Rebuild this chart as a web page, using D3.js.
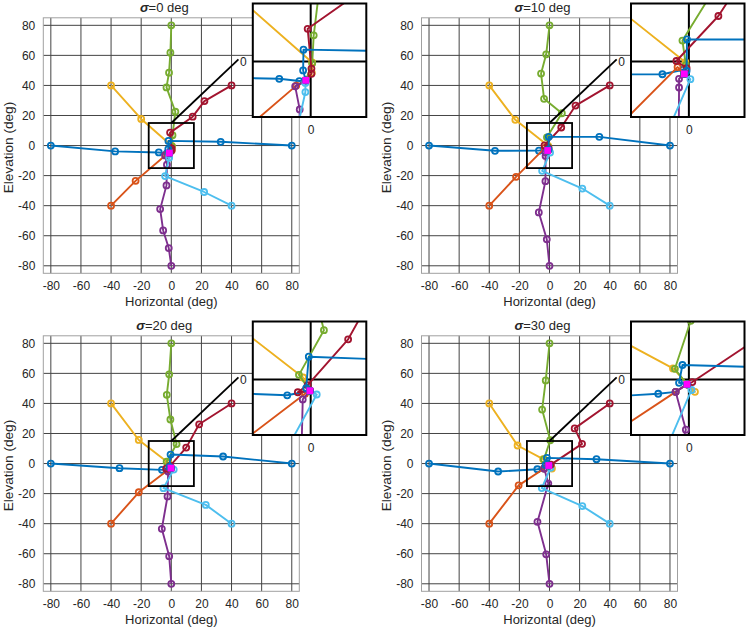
<!DOCTYPE html>
<html>
<head>
<meta charset="utf-8">
<script src="https://cdn.jsdelivr.net/npm/d3@7"></script>
<style>
  body { margin: 0; background: #fff; }
  svg text { font-family: "Liberation Sans", Arial, Helvetica, sans-serif; fill: #262626; }
</style>
</head>
<body>
<svg id="chart" width="750" height="630"></svg>
<script>
// ---------- data ----------
const sigmas = [0, 10, 20, 30];
const xTicks = [-80, -60, -40, -20, 0, 20, 40, 60, 80];
const yTicks = [-80, -60, -40, -20, 0, 20, 40, 60, 80];
const insetTicks = [0];

// one track per target, target first
const tracksS0 = [
  [[-80, 0], [-37.3, -3.9], [-8.3, -4.6], [-3, -5.2], [-1.3, -5]],
  [[-40, -40], [-23.7, -23.5], [-3.8, -6.4], [-1.3, -5]],
  [[-40, 40], [-20, 17.7], [0.4, -0.3], [0.3, -3], [-1.3, -5]],
  [[0, -80], [-1.7, -68.2], [-5.4, -56.5], [-7.4, -42.3], [-3.2, -26.5], [-2.9, -12.7], [-4.1, -6.6], [-1.3, -5]],
  [[0, 80], [-0.6, 61.8], [-1.5, 48.5], [-3.2, 38.7], [2.7, 22.5], [0.8, 6.9], [0.4, -0.5], [-1.3, -5]],
  [[40, -40], [21.8, -30.9], [-4.1, -20.3], [-1.4, -8.1], [-1.4, -5.7], [-1.3, -5]],
  [[40, 40], [22, 29.6], [14.2, 19.2], [-0.8, 8.6], [0.2, -1.9], [0.2, -3.3], [-1.3, -5]],
  [[80, 0], [32.8, 2.5], [-1.9, 3.1], [-2, -2.4], [-1.3, -5]]
];
const tracksS10 = [
  [[-80, 0], [-36.2, -3.5], [-7, -3.4], [-1.5, -2.2], [-1.2, -3.3]],
  [[-40, -40], [-22.2, -20.8], [-3, -1.5], [-1.2, -3.3]],
  [[-40, 40], [-22.7, 17.1], [-0.9, -0.2], [-1.2, -3.3]],
  [[0, -80], [-1.8, -62.4], [-7.1, -44.5], [-2.7, -23.7], [-2.6, -6.9], [-2.6, -4.6], [-1.2, -3.3]],
  [[0, 80], [-2.2, 60.7], [-5.6, 47.9], [-3.6, 31.1], [8.2, 21.5], [-1.7, 5.5], [-0.8, -1], [-1.2, -3.3]],
  [[40, -40], [21.8, -28.6], [-4.9, -16.8], [0.4, -4.7], [-1.2, -3.3]],
  [[40, 40], [17.3, 26.6], [7.8, 12], [-3.3, 0.1], [-0.6, -1.8], [-1.2, -3.3]],
  [[80, 0], [33.1, 5.8], [-0.5, 5.8], [-0.6, -2.5], [-1.2, -3.3]]
];
const tracksS20 = [
  [[-80, 0], [-34.4, -3.1], [-6.2, -4.2], [-0.2, -3]],
  [[-40, -40], [-21.6, -19.1], [-1.5, -3.8], [-0.2, -3]],
  [[-40, 40], [-21.6, 15.7], [-2, 0.5], [-0.2, -3]],
  [[0, -80], [-1.4, -61.6], [-6.3, -43.4], [-2.5, -21.9], [-2.1, -5.3], [-0.2, -3]],
  [[0, 80], [-1.4, 59.4], [-3, 45.7], [-0.6, 29.3], [3.5, 13], [-3.1, 1.2], [-0.2, -3]],
  [[40, -40], [22.9, -27.5], [-5.2, -16.4], [1.6, -4], [-0.2, -3]],
  [[40, 40], [18.5, 26.1], [9.9, 10.6], [-0.8, -1.5], [-3.4, -3.4], [-0.2, -3]],
  [[80, 0], [34.4, 4.7], [-0.5, 6], [-1.2, -2.3], [-0.2, -3]]
];
const tracksS30 = [
  [[-80, 0], [-34.1, -5.3], [-8.1, -3.8], [-3.5, -3.3], [-0.5, -1.3]],
  [[-40, -40], [-20.5, -14.5], [-3.5, -3.3], [-0.5, -1.3]],
  [[-40, 40], [-21.2, 12], [-4.2, 2.9], [1.6, -3.3], [-0.5, -1.3]],
  [[0, -80], [-2.2, -60.4], [-8, -38.8], [-0.8, -13.3], [-3.5, -3.3], [-0.5, -1.3]],
  [[0, 80], [-2.5, 55.3], [-4.9, 35.9], [0.5, 15.5], [-3.7, 2.8], [-0.5, -1.3]],
  [[40, -40], [21.8, -28.3], [-5.1, -16.3], [0.7, -2.8], [-0.5, -1.3]],
  [[40, 40], [16.7, 23.4], [21.6, 13.1], [0.9, -0.7], [-0.5, -1.3]],
  [[80, 0], [31.2, 2.9], [-1.7, 3.8], [-2.6, -0.9], [-0.5, -1.3]]
];
const tracks = [tracksS0, tracksS10, tracksS20, tracksS30];

// magenta square in each panel
const centerPoints = [[-1.3, -5], [-1.2, -3.3], [-0.2, -3], [-0.5, -1.3]];

// zoom box and pointer line, in data units
const zoomBox = [-15, 15];
const pointerLine = [[0, 15], [44.6, 57.4]];

// MATLAB default colour order (8th wraps to the first)
const colors = ["#0072BD", "#D95319", "#EDB120", "#7E2F8E", "#77AC30", "#4DBEEE", "#A2142F", "#0072BD"];

// ---------- layout ----------
const svg = d3.select("#chart");
const lefts = [43.3, 421.5];
const tops = [17.8, 335.8];
const W = 256, H = 255.5;
const insetSize = 113.5;
const fmt = d => String(d);

function drawTracks(g, data, x, y) {
  const line = d3.line().x(d => x(d[0])).y(d => y(d[1]));
  data.forEach((track, k) => {
    g.append("path")
      .attr("d", line(track))
      .attr("fill", "none")
      .attr("stroke", colors[k])
      .attr("stroke-width", 1.9)
      .attr("stroke-linejoin", "round");
    g.append("g").selectAll("circle")
      .data(track)
      .join("circle")
      .attr("cx", d => x(d[0]))
      .attr("cy", d => y(d[1]))
      .attr("r", 3)
      .attr("fill", "none")
      .attr("stroke", colors[k])
      .attr("stroke-width", 1.8);
  });
}

function drawCenter(g, p, x, y) {
  g.append("rect")
    .attr("x", x(p[0]) - 3.4)
    .attr("y", y(p[1]) - 3.4)
    .attr("width", 6.8)
    .attr("height", 6.8)
    .attr("fill", "#FF00FF");
}

function styleAxis(a) {
  a.select(".domain").remove();
  a.attr("font-family", null).attr("font-size", null);
  a.selectAll("text").style("font-size", "12px");
}

function drawPanel(i) {
  const col = i % 2, row = Math.floor(i / 2);
  const left = lefts[col], top = tops[row];

  const x = d3.scaleLinear().domain([-85, 85]).range([0, W]);
  const y = d3.scaleLinear().domain([-85, 85]).range([H, 0]);

  const g = svg.append("g").attr("transform", `translate(${left},${top})`);

  g.append("rect").attr("width", W).attr("height", H).attr("fill", "#fff");

  // grid
  g.append("g").selectAll("line")
    .data(xTicks)
    .join("line")
    .attr("x1", d => x(d)).attr("x2", d => x(d))
    .attr("y1", 0).attr("y2", H)
    .attr("stroke", "#444")
    .attr("stroke-width", 1);
  g.append("g").selectAll("line")
    .data(yTicks)
    .join("line")
    .attr("y1", d => y(d)).attr("y2", d => y(d))
    .attr("x1", 0).attr("x2", W)
    .attr("stroke", "#444")
    .attr("stroke-width", 1);

  g.append("rect")
    .attr("width", W).attr("height", H)
    .attr("fill", "none")
    .attr("stroke", "#a0a0a0")
    .attr("stroke-width", 1);

  // tick labels
  const xa = g.append("g")
    .attr("transform", `translate(0,${H})`)
    .call(d3.axisBottom(x).tickValues(xTicks).tickFormat(fmt).tickSize(0).tickPadding(8.5));
  const ya = g.append("g")
    .call(d3.axisLeft(y).tickValues(yTicks).tickFormat(fmt).tickSize(0).tickPadding(8));
  styleAxis(xa);
  styleAxis(ya);

  // axis labels and title
  g.append("text")
    .attr("x", W / 2).attr("y", H + 33)
    .attr("text-anchor", "middle")
    .style("font-size", "13px")
    .text("Horizontal (deg)");
  g.append("text")
    .attr("transform", `translate(-30.7,${H / 2 + 2}) rotate(-90)`)
    .attr("text-anchor", "middle")
    .style("font-size", "13.6px")
    .text("Elevation (deg)");
  const title = g.append("text")
    .attr("x", W / 2 - 7).attr("y", -5.5)
    .attr("text-anchor", "middle")
    .style("font-size", "13px");
  title.append("tspan").style("font-weight", "bold").style("font-style", "italic").text("σ");
  title.append("tspan").text(`=${sigmas[i]} deg`);

  // data
  drawTracks(g, tracks[i], x, y);

  // zoom box + pointer
  g.append("rect")
    .attr("x", x(zoomBox[0])).attr("y", y(zoomBox[1]))
    .attr("width", x(zoomBox[1]) - x(zoomBox[0]))
    .attr("height", y(zoomBox[0]) - y(zoomBox[1]))
    .attr("fill", "none")
    .attr("stroke", "#000")
    .attr("stroke-width", 1.8);
  g.append("line")
    .attr("x1", x(pointerLine[0][0])).attr("y1", y(pointerLine[0][1]))
    .attr("x2", x(pointerLine[1][0])).attr("y2", y(pointerLine[1][1]))
    .attr("stroke", "#000")
    .attr("stroke-width", 1.8);

  drawCenter(g, centerPoints[i], x, y);

  // ---------- inset ----------
  const S = insetSize;
  const ix = d3.scaleLinear().domain([-15.3, 14.7]).range([0, S]);
  const iy = d3.scaleLinear().domain([-14.7, 15.3]).range([S, 0]);
  const ig = svg.append("g").attr("transform", `translate(${left + 209.5},${top - 14.3})`);

  const clipId = `clip${i}`;
  ig.append("clipPath").attr("id", clipId)
    .append("rect").attr("width", S).attr("height", S);

  ig.append("rect").attr("width", S).attr("height", S).attr("fill", "#fff");

  const inner = ig.append("g").attr("clip-path", `url(#${clipId})`);
  inner.selectAll(".vg").data(insetTicks).join("line")
    .attr("x1", d => ix(d)).attr("x2", d => ix(d))
    .attr("y1", 0).attr("y2", S)
    .attr("stroke", "#000").attr("stroke-width", 2);
  inner.selectAll(".hg").data(insetTicks).join("line")
    .attr("y1", d => iy(d)).attr("y2", d => iy(d))
    .attr("x1", 0).attr("x2", S)
    .attr("stroke", "#000").attr("stroke-width", 2);
  drawTracks(inner, tracks[i], ix, iy);
  drawCenter(inner, centerPoints[i], ix, iy);

  ig.append("rect")
    .attr("width", S).attr("height", S)
    .attr("fill", "none")
    .attr("stroke", "#000")
    .attr("stroke-width", 2);

  const ixa = ig.append("g")
    .attr("transform", `translate(0,${S})`)
    .call(d3.axisBottom(ix).tickValues(insetTicks).tickFormat(fmt).tickSize(0).tickPadding(8));
  const iya = ig.append("g")
    .call(d3.axisLeft(iy).tickValues(insetTicks).tickFormat(fmt).tickSize(0).tickPadding(6));
  styleAxis(ixa);
  styleAxis(iya);
}

sigmas.forEach((s, i) => drawPanel(i));
</script>
</body>
</html>
